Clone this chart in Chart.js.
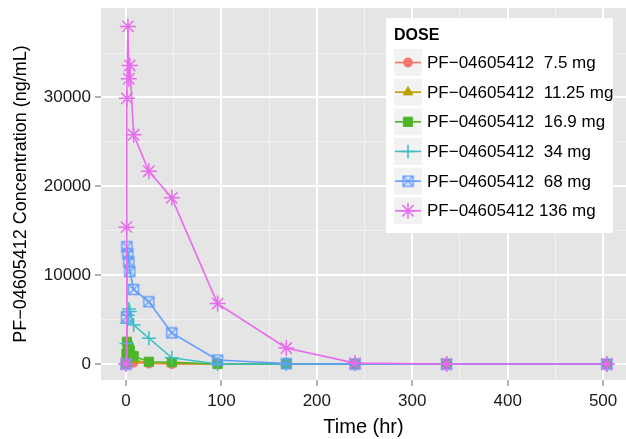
<!DOCTYPE html>
<html>
<head>
<meta charset="utf-8">
<script src="https://cdn.jsdelivr.net/npm/chart.js@4.4.1/dist/chart.umd.min.js"></script>
<style>
  html, body { margin: 0; padding: 0; background: #fff; }
  #grafik { display: block; }
</style>
</head>
<body>
<canvas id="grafik" width="626" height="439"></canvas>
<script>
// Waktu sampling (jam) dan kadar tiap dosis (ng/mL)
const waktu = [0, 0.5, 1, 2, 3, 4, 8, 24, 48, 96, 168, 240, 336, 504];

const kadar7_5  = [0, 100, 250, 300, 280, 250, 150, 50, 0, 0, 0, 0, 0, 0];
const kadar11   = [0, 200, 500, 650, 600, 550, 400, 150, 50, 0, 0, 0, 0, 0];
const kadar16   = [0, 1200, 2500, 2000, 1800, 1500, 900, 250, 200, 0, 0, 0, 0, 0];
const kadar34   = [0, 2300, 4600, 5500, 6200, 5900, 4400, 2900, 700, 0, 0, 0, 0, 0];
const kadar68   = [0, 5300, 13200, 12400, 11500, 10400, 8400, 7000, 3500, 450, 50, 0, 0, 0];
const kadar136  = [0, 15400, 29900, 38000, 32100, 33600, 25800, 21700, 18700, 6800, 1800, 100, 0, 0];

const labelDosis = [
  "PF\u221204605412  7.5 mg",
  "PF\u221204605412  11.25 mg",
  "PF\u221204605412  16.9 mg",
  "PF\u221204605412  34 mg",
  "PF\u221204605412  68 mg",
  "PF\u221204605412 136 mg"
];
const warna = ["#F8766D", "#B79F00", "#4DB528", "#3DBFC4", "#619CFF", "#E86BEE"];

const xTicks = [0, 100, 200, 300, 400, 500];
const yTicks = [0, 10000, 20000, 30000];

const FONT = '"Liberation Sans", Arial, Helvetica, sans-serif';

// kotak dengan tanda silang (bentuk 7 di ggplot)
function kotakSilang(c) {
  const cv = document.createElement("canvas");
  cv.width = 13; cv.height = 13;
  const g = cv.getContext("2d");
  g.strokeStyle = c; g.lineWidth = 1.4;
  g.strokeRect(1.5, 1.5, 10, 10);
  g.beginPath();
  g.moveTo(1.5, 1.5); g.lineTo(11.5, 11.5);
  g.moveTo(11.5, 1.5); g.lineTo(1.5, 11.5);
  g.stroke();
  return cv;
}

const bentuk = ["circle", "triangle", "rect", "cross", kotakSilang(warna[4]), "star"];
const radius = [4.5, 5.5, 6.5, 7, 6.5, 8];
const semuaKadar = [kadar7_5, kadar11, kadar16, kadar34, kadar68, kadar136];

const datasets = semuaKadar.map((arr, i) => ({
  label: labelDosis[i],
  data: arr.map((v, j) => ({ x: waktu[j], y: v })),
  borderColor: warna[i],
  backgroundColor: warna[i],
  pointBackgroundColor: warna[i],
  pointBorderColor: warna[i],
  borderWidth: 1.6,
  pointStyle: bentuk[i],
  pointRadius: radius[i],
  pointBorderWidth: (i === 3 || i === 5) ? 1.5 : 1,
  tension: 0,
  clip: false,
  order: 5 - i
}));

// grid mayor + minor (hanya yang masih di dalam rentang)
function gridDari(ticks, maks) {
  const out = [];
  ticks.forEach(t => {
    out.push(t);
    const tengah = t + (ticks[1] - ticks[0]) / 2;
    if (tengah < maks) out.push(tengah);
  });
  return out;
}

// latar panel abu-abu
const latarPanel = {
  id: "latarPanel",
  beforeDraw(chart) {
    const { ctx, chartArea: a } = chart;
    ctx.save();
    ctx.fillStyle = "#E5E5E5";
    ctx.fillRect(a.left, a.top, a.right - a.left, a.bottom - a.top);
    ctx.restore();
  }
};

// legenda gaya ggplot
const legendaDose = {
  id: "legendaDose",
  afterDraw(chart) {
    const ctx = chart.ctx;
    ctx.save();
    ctx.fillStyle = "#fff";
    ctx.fillRect(386, 18, 227, 215);
    ctx.fillStyle = "#000";
    ctx.font = "bold 16px " + FONT;
    ctx.textBaseline = "alphabetic";
    ctx.textAlign = "left";
    ctx.fillText("DOSE", 394, 40);
    chart.data.datasets.forEach((ds, i) => {
      const top = 49 + i * 29.65;
      const cy = top + 13.5;
      ctx.fillStyle = "#F2F2F2";
      ctx.fillRect(394, top, 28, 27);
      ctx.strokeStyle = ds.borderColor;
      ctx.lineWidth = 1.6;
      ctx.beginPath();
      ctx.moveTo(395, cy); ctx.lineTo(421, cy);
      ctx.stroke();
      ctx.fillStyle = ds.backgroundColor;
      ctx.strokeStyle = ds.borderColor;
      ctx.lineWidth = ds.pointBorderWidth;
      Chart.helpers.drawPoint(ctx, {
        pointStyle: ds.pointStyle, radius: ds.pointRadius,
        borderWidth: ds.pointBorderWidth, rotation: 0
      }, 408, cy);
      ctx.fillStyle = "#000";
      ctx.font = "17px " + FONT;
      ctx.textBaseline = "middle";
      ctx.fillText(ds.label, 427, cy + 1);
    });
    ctx.restore();
  }
};

const isMayor = (list, v) => list.includes(v);

new Chart(document.getElementById("grafik"), {
  type: "line",
  data: { datasets },
  plugins: [latarPanel, legendaDose],
  options: {
    responsive: false,
    animation: false,
    devicePixelRatio: 1,
    layout: { autoPadding: false, padding: { top: 8, right: 0, left: 0, bottom: 0 } },
    plugins: { legend: { display: false }, tooltip: { enabled: false } },
    scales: {
      x: {
        type: "linear",
        min: -26.2,
        max: 524,
        afterFit: s => { s.height = 59; s.paddingLeft = 0; s.paddingRight = 0; },
        afterBuildTicks: s => { s.ticks = gridDari(xTicks, 524).map(v => ({ value: v })); },
        border: { display: false },
        grid: {
          color: c => isMayor(xTicks, c.tick.value) ? "#FFFFFF" : "#F2F2F2",
          lineWidth: c => isMayor(xTicks, c.tick.value) ? 2 : 1,
          tickColor: c => isMayor(xTicks, c.tick.value) ? "#7F7F7F" : "rgba(0,0,0,0)",
          tickLength: 6,
          tickWidth: 1.2
        },
        ticks: {
          autoSkip: false, maxRotation: 0, padding: 5,
          color: "#1a1a1a",
          font: { size: 17, family: FONT },
          callback: v => isMayor(xTicks, v) ? String(v) : ""
        },
        title: {
          display: true, text: "Time (hr)", color: "#000",
          font: { size: 20, family: FONT }, padding: { top: 0, bottom: 0 }
        }
      },
      y: {
        type: "linear",
        min: -1800,
        max: 40070,
        afterFit: s => { s.width = 101; s.paddingTop = 0; s.paddingBottom = 0; },
        afterBuildTicks: s => { s.ticks = gridDari(yTicks, 40070).map(v => ({ value: v })); },
        border: { display: false },
        grid: {
          color: c => isMayor(yTicks, c.tick.value) ? "#FFFFFF" : "#F2F2F2",
          lineWidth: c => isMayor(yTicks, c.tick.value) ? 2 : 1,
          tickColor: c => isMayor(yTicks, c.tick.value) ? "#7F7F7F" : "rgba(0,0,0,0)",
          tickLength: 6,
          tickWidth: 1.2
        },
        ticks: {
          autoSkip: false, padding: 4,
          color: "#1a1a1a",
          font: { size: 17, family: FONT },
          callback: v => isMayor(yTicks, v) ? String(v) : ""
        },
        title: {
          display: true, text: "PF\u221204605412 Concentration (ng/mL)", color: "#000",
          font: { size: 18, family: FONT }, padding: { top: 10, bottom: 0 }
        }
      }
    }
  }
});
</script>
</body>
</html>
